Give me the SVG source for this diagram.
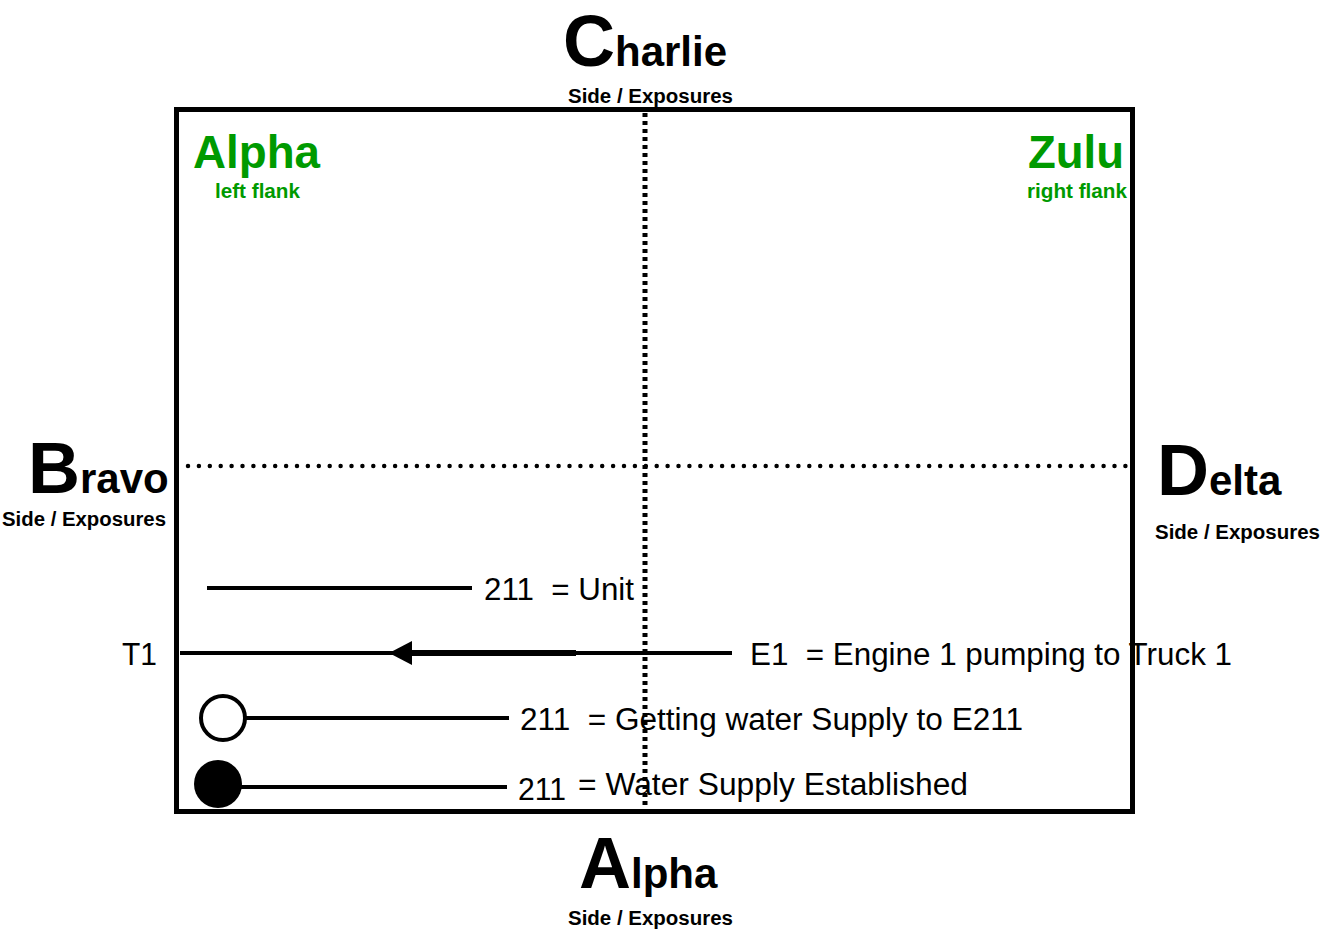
<svg xmlns="http://www.w3.org/2000/svg" width="1339" height="941" viewBox="0 0 1339 941">
<style>
.big{font-family:"Liberation Sans",Arial,sans-serif;font-weight:bold;fill:#000}
.sub{font-family:"Liberation Sans",Arial,sans-serif;font-weight:bold;font-size:20px;fill:#000}
.green{font-family:"Liberation Sans",Arial,sans-serif;font-weight:bold;fill:#009a00}
.leg{font-family:"Liberation Sans",Arial,sans-serif;font-size:31px;fill:#000}
.ln{stroke:#000;stroke-width:4;fill:none}
</style>
<rect width="1339" height="941" fill="#fff"/>
<g id="frame">
<rect x="176.5" y="109.5" width="956" height="702" fill="none" stroke="#000" stroke-width="5"/>
<line x1="645" y1="113" x2="645" y2="810" stroke="#000" stroke-width="5" stroke-dasharray="4 4"/>
<line x1="188" y1="466" x2="1128" y2="466" stroke="#000" stroke-width="4.5" stroke-linecap="round" stroke-dasharray="0 10.9"/>
</g>
<g id="charlie">
<text x="563" y="66" class="big"><tspan font-size="72">C</tspan><tspan font-size="42">harlie</tspan></text>
<text x="568" y="103" class="sub" textLength="165" lengthAdjust="spacingAndGlyphs">Side / Exposures</text>
</g>
<g id="alpha-bottom">
<text x="579" y="888" class="big"><tspan font-size="72">A</tspan><tspan font-size="42">lpha</tspan></text>
<text x="568" y="925" class="sub" textLength="165" lengthAdjust="spacingAndGlyphs">Side / Exposures</text>
</g>
<g id="bravo">
<text x="28" y="493" class="big"><tspan font-size="72">B</tspan><tspan font-size="42">ravo</tspan></text>
<text x="2" y="526" class="sub" textLength="164" lengthAdjust="spacingAndGlyphs">Side / Exposures</text>
</g>
<g id="delta">
<text x="1157" y="495" class="big"><tspan font-size="72">D</tspan><tspan font-size="42">elta</tspan></text>
<text x="1155" y="539" class="sub" textLength="165" lengthAdjust="spacingAndGlyphs">Side / Exposures</text>
</g>
<g id="alpha-left-flank">
<text x="193" y="168" class="green" font-size="46" textLength="127" lengthAdjust="spacingAndGlyphs">Alpha</text>
<text x="215" y="198" class="green" font-size="20" textLength="85" lengthAdjust="spacingAndGlyphs">left flank</text>
</g>
<g id="zulu-right-flank">
<text x="1028" y="168" class="green" font-size="46" textLength="96" lengthAdjust="spacingAndGlyphs">Zulu</text>
<text x="1027" y="198" class="green" font-size="20" textLength="100" lengthAdjust="spacingAndGlyphs">right flank</text>
</g>
<g id="connectors">
<line x1="207" y1="588" x2="472" y2="588" class="ln"/>
<line x1="180" y1="653" x2="732" y2="653" class="ln"/>
<line x1="400" y1="653" x2="576" y2="653" stroke="#000" stroke-width="6"/>
<path d="M389,653 L412,641 L412,665 Z" fill="#000"/>
<line x1="245" y1="718" x2="509" y2="718" class="ln"/>
<line x1="240" y1="787" x2="507" y2="787" class="ln"/>
</g>
<g id="legend-unit">
<text x="484" y="600" class="leg" xml:space="preserve" textLength="150" lengthAdjust="spacingAndGlyphs">211  = Unit</text>
</g>
<g id="legend-engine">
<text x="122" y="665" class="leg" textLength="35" lengthAdjust="spacingAndGlyphs">T1</text>
<text x="750" y="665" class="leg" xml:space="preserve" textLength="482" lengthAdjust="spacingAndGlyphs">E1  = Engine 1 pumping to Truck 1</text>
</g>
<g id="legend-getting-water">
<circle cx="223" cy="718" r="22" fill="#fff" stroke="#000" stroke-width="4"/>
<text x="520" y="730" class="leg" xml:space="preserve" textLength="503" lengthAdjust="spacingAndGlyphs">211  = Getting water Supply to E211</text>
</g>
<g id="legend-water-established">
<circle cx="218" cy="784" r="24" fill="#000"/>
<text x="518" y="800" class="leg" textLength="48" lengthAdjust="spacingAndGlyphs">211</text>
<text x="578" y="795" class="leg" textLength="390" lengthAdjust="spacingAndGlyphs">= Water Supply Established</text>
</g>
</svg>
